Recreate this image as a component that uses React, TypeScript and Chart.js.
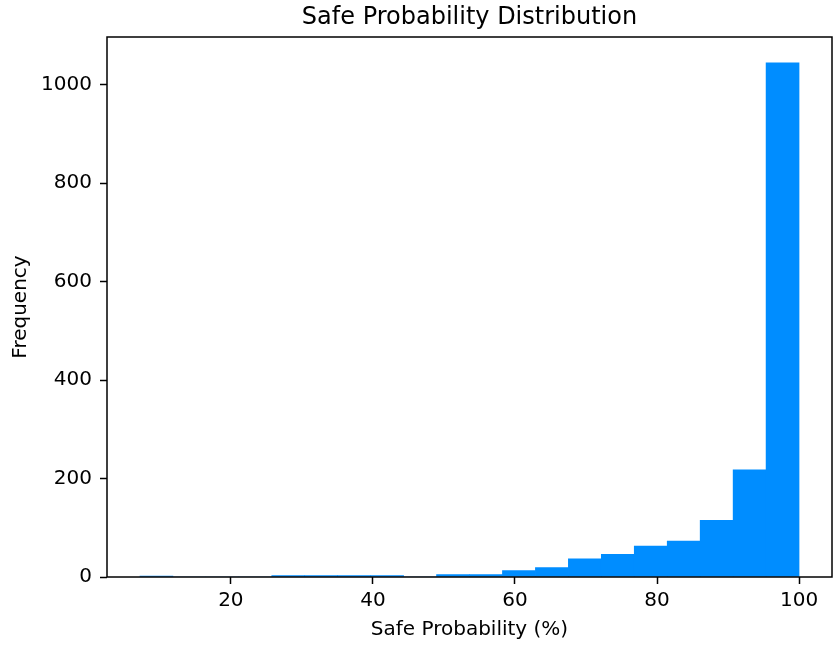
import React, { useEffect, useRef } from 'react';
import { Chart, registerables } from 'chart.js';

Chart.register(...registerables);

// Histogram bin edges (Safe Probability, %) and counts per bin
const binEdges = [7.2, 11.84, 16.48, 21.12, 25.76, 30.4, 35.04, 39.68, 44.32, 48.96, 53.6, 58.24, 62.88, 67.52, 72.16, 76.8, 81.44, 86.08, 90.72, 95.36, 100];
const frequencies = [2, 0, 0, 0, 3, 3, 3, 3, 0, 5, 5, 13, 19, 37, 46, 63, 73, 115, 218, 1045];

const xTickValues = [20, 40, 60, 80, 100];
const yTickValues = [0, 200, 400, 600, 800, 1000];
const xMin = 2.56;
const xMax = 104.64;
const yMin = 0;
const yMax = 1097.25;

const titleText = 'Safe Probability Distribution';
const xLabel = 'Safe Probability (%)';
const yLabel = 'Frequency';
const barColor = '#008dff';
const FONT = "'DejaVu Sans', sans-serif";

const framePlugin = {
  id: 'frame',
  afterDatasetsDraw(chart: any) {
    const { ctx, chartArea } = chart;
    const { left, top, right, bottom } = chartArea;
    ctx.save();
    ctx.strokeStyle = '#000';
    ctx.lineWidth = 1.5;
    ctx.strokeRect(left, top, right - left, bottom - top);
    ctx.restore();
  },
};

export default function App() {
  const canvasRef = useRef<HTMLCanvasElement | null>(null);

  useEffect(() => {
    if (!canvasRef.current) return;
    const points = frequencies.map((f, i) => ({ x: (binEdges[i] + binEdges[i + 1]) / 2, y: f }));
    const chart = new Chart(canvasRef.current, {
      type: 'bar',
      data: {
        datasets: [
          {
            data: points as any,
            backgroundColor: barColor,
            borderWidth: 0,
            barPercentage: 1,
            categoryPercentage: 1,
          },
        ],
      },
      plugins: [framePlugin],
      options: {
        animation: false,
        responsive: true,
        maintainAspectRatio: false,
        layout: { padding: { left: 0, right: 7, top: 0, bottom: 0 } },
        plugins: {
          legend: { display: false },
          tooltip: { enabled: false },
          title: {
            display: true,
            fullSize: false,
            text: titleText,
            color: '#000',
            font: { family: FONT, size: 24, weight: 'normal' },
            padding: { top: 3, bottom: 5.2 },
          },
        },
        scales: {
          x: {
            type: 'linear',
            min: xMin,
            max: xMax,
            offset: false,
            afterBuildTicks: (scale: any) => {
              scale.ticks = xTickValues.map((v) => ({ value: v }));
            },
            afterFit: (scale: any) => {
              scale.height = 68;
            },
            grid: {
              display: true,
              offset: false,
              drawOnChartArea: false,
              drawTicks: true,
              tickLength: 7,
              tickColor: '#000',
              tickWidth: 1.5,
            },
            border: { display: false },
            ticks: {
              color: '#000',
              font: { family: FONT, size: 20 },
              padding: 5,
              maxRotation: 0,
              autoSkip: false,
              callback: (v: any) => String(v),
            },
            title: {
              display: true,
              text: xLabel,
              color: '#000',
              font: { family: FONT, size: 20 },
              padding: { top: 0, bottom: 3 },
            },
          },
          y: {
            type: 'linear',
            min: yMin,
            max: yMax,
            afterBuildTicks: (scale: any) => {
              scale.ticks = yTickValues.map((v) => ({ value: v }));
            },
            afterFit: (scale: any) => {
              scale.width = 107;
            },
            grid: {
              display: true,
              offset: false,
              drawOnChartArea: false,
              drawTicks: true,
              tickLength: 7,
              tickColor: '#000',
              tickWidth: 1.5,
            },
            border: { display: false },
            ticks: {
              color: '#000',
              font: { family: FONT, size: 20 },
              padding: 8,
              autoSkip: false,
              callback: (v: any) => String(v),
            },
            title: {
              display: true,
              text: yLabel,
              color: '#000',
              font: { family: FONT, size: 20 },
              padding: { top: 9, bottom: 0 },
            },
          },
        },
      } as any,
    });
    return () => chart.destroy();
  }, []);

  return (
    <div style={{ position: 'fixed', left: 0, top: 0, width: 839, height: 645, background: '#fff' }}>
      <canvas ref={canvasRef} />
    </div>
  );
}
